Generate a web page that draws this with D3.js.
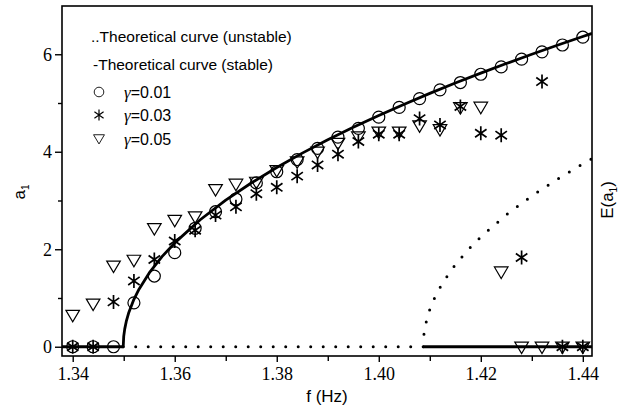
<!DOCTYPE html>
<html>
<head>
<meta charset="utf-8">
<script src="https://cdn.jsdelivr.net/npm/d3@7"></script>
<style>
  html, body { margin: 0; padding: 0; background: #fff; }
  svg { display: block; }
  .serif { font-family: "Liberation Serif", "DejaVu Serif", "Noto Serif", Times, serif; }
  .sans { font-family: "Liberation Sans", Arial, Helvetica, sans-serif; }
</style>
</head>
<body>
<svg id="chart" width="621" height="415"></svg>
<script>
// Measured response amplitude a1 vs. excitation frequency f (Hz)
const freqs = [1.340, 1.344, 1.348, 1.352, 1.356, 1.360, 1.364, 1.368, 1.372, 1.376,
               1.380, 1.384, 1.388, 1.392, 1.396, 1.400, 1.404, 1.408, 1.412, 1.416,
               1.420, 1.424, 1.428, 1.432, 1.436, 1.440];
const gamma001 = [0, 0, 0, 0.90, 1.45, 1.93, 2.43, 2.77, 3.03, 3.36,
                  3.59, 3.84, 4.07, 4.30, 4.48, 4.71, 4.91, 5.09, 5.27, 5.42,
                  5.59, 5.74, 5.90, 6.05, 6.19, 6.35];
const gamma003 = [0, 0, 0.92, 1.35, 1.79, 2.17, 2.39, 2.70, 2.87, 3.14,
                  3.27, 3.50, 3.73, 3.95, 4.21, 4.36, 4.36, 4.68, 4.55, 4.93,
                  4.38, 4.34, 1.83, 5.44, 0, 0];
const gamma005 = [0.65, 0.88, 1.66, 1.78, 2.43, 2.60, 2.67, 3.23, 3.34, 3.38,
                  3.62, 3.80, 4.00, 4.18, 4.31, 4.41, 4.41, 4.54, 4.46, 4.91,
                  4.92, 1.54, 0, 0, 0, 0];

// Theoretical curve, stable branch (f, a1)
const stableUpperF = [1.3379, 1.3499, 1.3500, 1.3502, 1.3505, 1.351, 1.352, 1.353, 1.355, 1.3575,
                      1.360, 1.365, 1.370, 1.375, 1.380, 1.385, 1.390, 1.395, 1.400, 1.405,
                      1.410, 1.415, 1.420, 1.425, 1.430, 1.435, 1.440, 1.4418];
const stableUpperA = [0, 0, 0.212, 0.367, 0.519, 0.703, 0.972, 1.180, 1.514, 1.848,
                      2.131, 2.605, 3.006, 3.359, 3.678, 3.972, 4.245, 4.502, 4.745, 4.976,
                      5.197, 5.409, 5.613, 5.810, 6.000, 6.185, 6.364, 6.427];
const stableLowerF = [1.4087, 1.4418];
const stableLowerA = [0, 0];

// Theoretical curve, unstable branches (f, a1)
const unstableZeroF = [1.3499, 1.4087];
const unstableZeroA = [0, 0];
const unstableBranchF = [1.4087, 1.4088, 1.409, 1.4095, 1.410, 1.411, 1.4125, 1.415, 1.4175,
                         1.420, 1.425, 1.430, 1.435, 1.440, 1.4418];
const unstableBranchA = [0, 0.21, 0.367, 0.600, 0.764, 1.017, 1.307, 1.683, 1.989,
                         2.254, 2.707, 3.094, 3.438, 3.751, 3.857];

const xMajorTicks = [1.34, 1.36, 1.38, 1.40, 1.42, 1.44];
const xMinorTicks = [1.35, 1.37, 1.39, 1.41, 1.43];
const yMajorTicks = [0, 2, 4, 6];
const yMinorTicks = [1, 3, 5];

const legendLabels = ["..Theoretical curve (unstable)", "-Theoretical curve (stable)"];
const seriesLabels = ["=0.01", "=0.03", "=0.05"];

const svg = d3.select("#chart");
const plotLeft = 62, plotRight = 592, plotTop = 6, plotBottom = 356;

const x = d3.scaleLinear().domain([1.3379, 1.4418]).range([plotLeft, plotRight]);
const y = d3.scaleLinear().domain([-0.19, 6.99]).range([plotBottom, plotTop]);

svg.append("defs").append("clipPath").attr("id", "plotClip")
  .append("rect").attr("x", plotLeft).attr("y", plotTop)
  .attr("width", plotRight - plotLeft).attr("height", plotBottom - plotTop);

const line = d3.line().x(d => x(d[0])).y(d => y(d[1]));
const zip = (fs, as) => fs.map((f, i) => [f, as[i]]);

const plot = svg.append("g").attr("clip-path", "url(#plotClip)");

// unstable (dotted)
[zip(unstableZeroF, unstableZeroA), zip(unstableBranchF, unstableBranchA)].forEach(pts => {
  plot.append("path").attr("d", line(pts))
    .attr("fill", "none").attr("stroke", "#000").attr("stroke-width", 3)
    .attr("stroke-linecap", "round").attr("stroke-dasharray", "0,12.5");
});

// stable (solid)
[zip(stableUpperF, stableUpperA), zip(stableLowerF, stableLowerA)].forEach(pts => {
  plot.append("path").attr("d", line(pts))
    .attr("fill", "none").attr("stroke", "#000").attr("stroke-width", 2.8)
    .attr("stroke-linejoin", "round");
});

// marker shapes
const circlePath = "M6,0A6,6 0 1,1 -6,0A6,6 0 1,1 6,0Z";
const starPath = (() => {
  const r = 7, parts = [];
  [90, 35, 145].forEach(deg => {
    const a = deg * Math.PI / 180;
    const dx = r * Math.cos(a), dy = r * Math.sin(a);
    parts.push(`M${dx.toFixed(2)},${(-dy).toFixed(2)}L${(-dx).toFixed(2)},${dy.toFixed(2)}`);
  });
  return parts.join("");
})();
const triPath = "M-6.8,-4.7L6.8,-4.7L0,6.8Z";

function drawMarkers(values, shape, sw) {
  svg.append("g").selectAll("path").data(freqs.map((f, i) => [f, values[i]])).join("path")
    .attr("d", shape)
    .attr("transform", d => `translate(${x(d[0])},${y(d[1])})`)
    .attr("fill", "none").attr("stroke", "#000").attr("stroke-width", sw);
}
drawMarkers(gamma001, circlePath, 1.2);
drawMarkers(gamma003, starPath, 1.7);
drawMarkers(gamma005, triPath, 1.2);

// frame
svg.append("rect").attr("x", plotLeft).attr("y", plotTop)
  .attr("width", plotRight - plotLeft).attr("height", plotBottom - plotTop)
  .attr("fill", "none").attr("stroke", "#000").attr("stroke-width", 1.6);

function styleAxis(g) {
  g.select(".domain").remove();
  g.selectAll("line").attr("stroke-width", 1.4);
  g.attr("font-family", null).attr("font-size", null);
  g.selectAll("text").attr("fill", "#000").attr("class", "serif").attr("font-size", 18);
}

// bottom axis
svg.append("g").attr("transform", `translate(0,${plotBottom})`)
  .call(d3.axisBottom(x).tickValues(xMajorTicks).tickSize(6).tickPadding(5).tickFormat(d3.format(".2f")))
  .call(styleAxis);
svg.append("g").attr("transform", `translate(0,${plotBottom})`)
  .call(d3.axisBottom(x).tickValues(xMinorTicks).tickSize(5).tickFormat(""))
  .call(styleAxis);

// left axis
svg.append("g").attr("transform", `translate(${plotLeft},0)`)
  .call(d3.axisLeft(y).tickValues(yMajorTicks).tickSize(7).tickPadding(3).tickFormat(d3.format("d")))
  .call(styleAxis)
  .call(g => g.selectAll("text").attr("dy", "0.34em"));
svg.append("g").attr("transform", `translate(${plotLeft},0)`)
  .call(d3.axisLeft(y).tickValues(yMinorTicks).tickSize(4).tickFormat(""))
  .call(styleAxis);

// axis titles
svg.append("text").attr("class", "sans").attr("font-size", 17)
  .attr("x", 327).attr("y", 402).attr("text-anchor", "middle").text("f (Hz)");

const yt = svg.append("text").attr("class", "sans").attr("font-size", 17)
  .attr("transform", "translate(25,192) rotate(-90)").attr("text-anchor", "middle");
yt.append("tspan").text("a");
yt.append("tspan").attr("font-size", 10).attr("dy", "4").text("1");

const et = svg.append("text").attr("class", "sans").attr("font-size", 17)
  .attr("transform", "translate(613,200) rotate(-90)").attr("text-anchor", "middle");
et.append("tspan").text("E(a");
et.append("tspan").attr("font-size", 10).attr("dy", "4").text("1");
et.append("tspan").attr("dy", "-4").text(")");

// legend
svg.append("text").attr("class", "sans").attr("font-size", 15.5)
  .attr("x", 91).attr("y", 42).text(legendLabels[0]);
svg.append("text").attr("class", "sans").attr("font-size", 15.5)
  .attr("x", 93).attr("y", 70).text(legendLabels[1]);
const legendShapes = [[circlePath, 1.1], [starPath, 1.5], [triPath, 1.1]];
const legendY = [92, 115, 138.5];
legendShapes.forEach(([shape, sw], i) => {
  svg.append("path").attr("d", shape)
    .attr("transform", `translate(99,${legendY[i]}) scale(0.8)`)
    .attr("fill", "none").attr("stroke", "#000").attr("stroke-width", sw);
  const t = svg.append("text").attr("class", "sans").attr("font-size", 16)
    .attr("x", 124).attr("y", legendY[i] + 6);
  t.append("tspan").attr("class", "serif").attr("font-style", "italic")
    .attr("font-size", 17).text("\u03b3");
  t.append("tspan").text(seriesLabels[i]);
});
</script>
</body>
</html>
